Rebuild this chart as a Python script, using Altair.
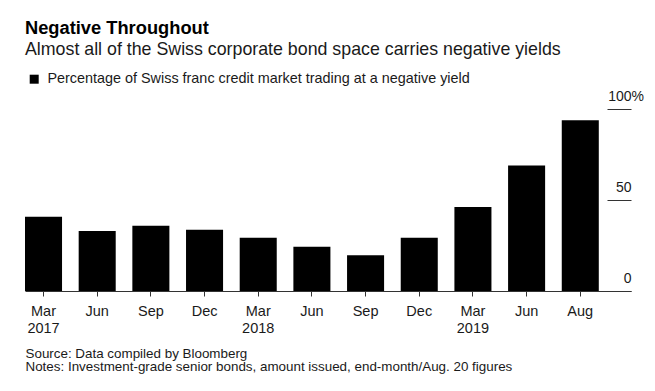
import altair as alt
import pandas as pd

periods = ["Mar 2017", "Jun 2017", "Sep 2017", "Dec 2017", "Mar 2018", "Jun 2018",
           "Sep 2018", "Dec 2018", "Mar 2019", "Jun 2019", "Aug 2019"]
values = [40.8, 33.0, 35.9, 33.7, 29.3, 24.3, 19.6, 29.3, 46.2, 69.0, 93.8]
series_name = "Percentage of Swiss franc credit market trading at a negative yield"
y_ticks = [0, 50, 100]

df = pd.DataFrame({"period": periods, "value": values, "series": [series_name] * len(periods)})

FONT = "Liberation Sans"
INK = "#1a1a1a"

label_expr = ("indexof(datum.value, 'Mar') == 0 ? split(datum.value, ' ') : "
              "split(datum.value, ' ')[0]")

chart = alt.Chart(df).mark_bar(color="black").encode(
    x=alt.X("period:N", sort=periods,
            scale=alt.Scale(paddingInner=0.31, paddingOuter=0.3, align=0),
            axis=alt.Axis(
                labelExpr=label_expr, labelAngle=0, labelFont=FONT, labelFontSize=14.5,
                labelColor=INK, labelLineHeight=16.5, labelPadding=8.5, labelBaseline="top",
                tickSize=5, tickColor="#333", domainColor="#333", domainWidth=1,
                title=["Source: Data compiled by Bloomberg",
                       "Notes: Investment-grade senior bonds, amount issued, end-month/Aug. 20 figures"],
                titleFont=FONT, titleFontSize=13.4, titleFontWeight="normal", titleColor=INK,
                titleAnchor="start", titleAlign="left", titleBaseline="alphabetic",
                titleX=0, titleY=66, titleLineHeight=13.5,
            )),
    y=alt.Y("value:Q", scale=alt.Scale(domain=[0, 100]),
            axis=alt.Axis(
                orient="right", offset=-24, values=y_ticks, tickSize=24, tickColor="#333",
                domain=False, grid=False,
                labelExpr="datum.value == 100 ? '100%' : datum.label",
                labelAlign="right", labelBaseline="alphabetic", labelOffset=-8.5,
                labelPadding={"condition": {"test": "datum.value == 100", "value": 12.5}, "value": 0},
                labelFont=FONT, labelFontSize=14, labelColor=INK, title=None,
            )),
    color=alt.Color("series:N", scale=alt.Scale(range=["black"]),
                    legend=alt.Legend(
                        title=None, orient="none", legendX=2, legendY=-37, padding=0,
                        symbolType="square", symbolSize=81, symbolStrokeWidth=0,
                        labelFont=FONT, labelFontSize=14.4, labelColor=INK, labelOffset=6,
                        labelLimit=600,
                    )),
).properties(
    width=606, height=182,
    autosize=alt.AutoSizeParams(type="none"),
    padding={"left": 17, "top": 101, "right": 16, "bottom": 92},
    title=alt.TitleParams(
        text="Negative Throughout",
        subtitle="Almost all of the Swiss corporate bond space carries negative yields",
        anchor="start", font=FONT, fontSize=18.3, fontWeight="bold", color="black",
        subtitleFont=FONT, subtitleFontSize=17.8, subtitleColor=INK, subtitlePadding=2.5,
        offset=12,
    ),
).configure_view(stroke=None)

chart.save("out.html", embed_options={"renderer": "svg", "actions": False})
